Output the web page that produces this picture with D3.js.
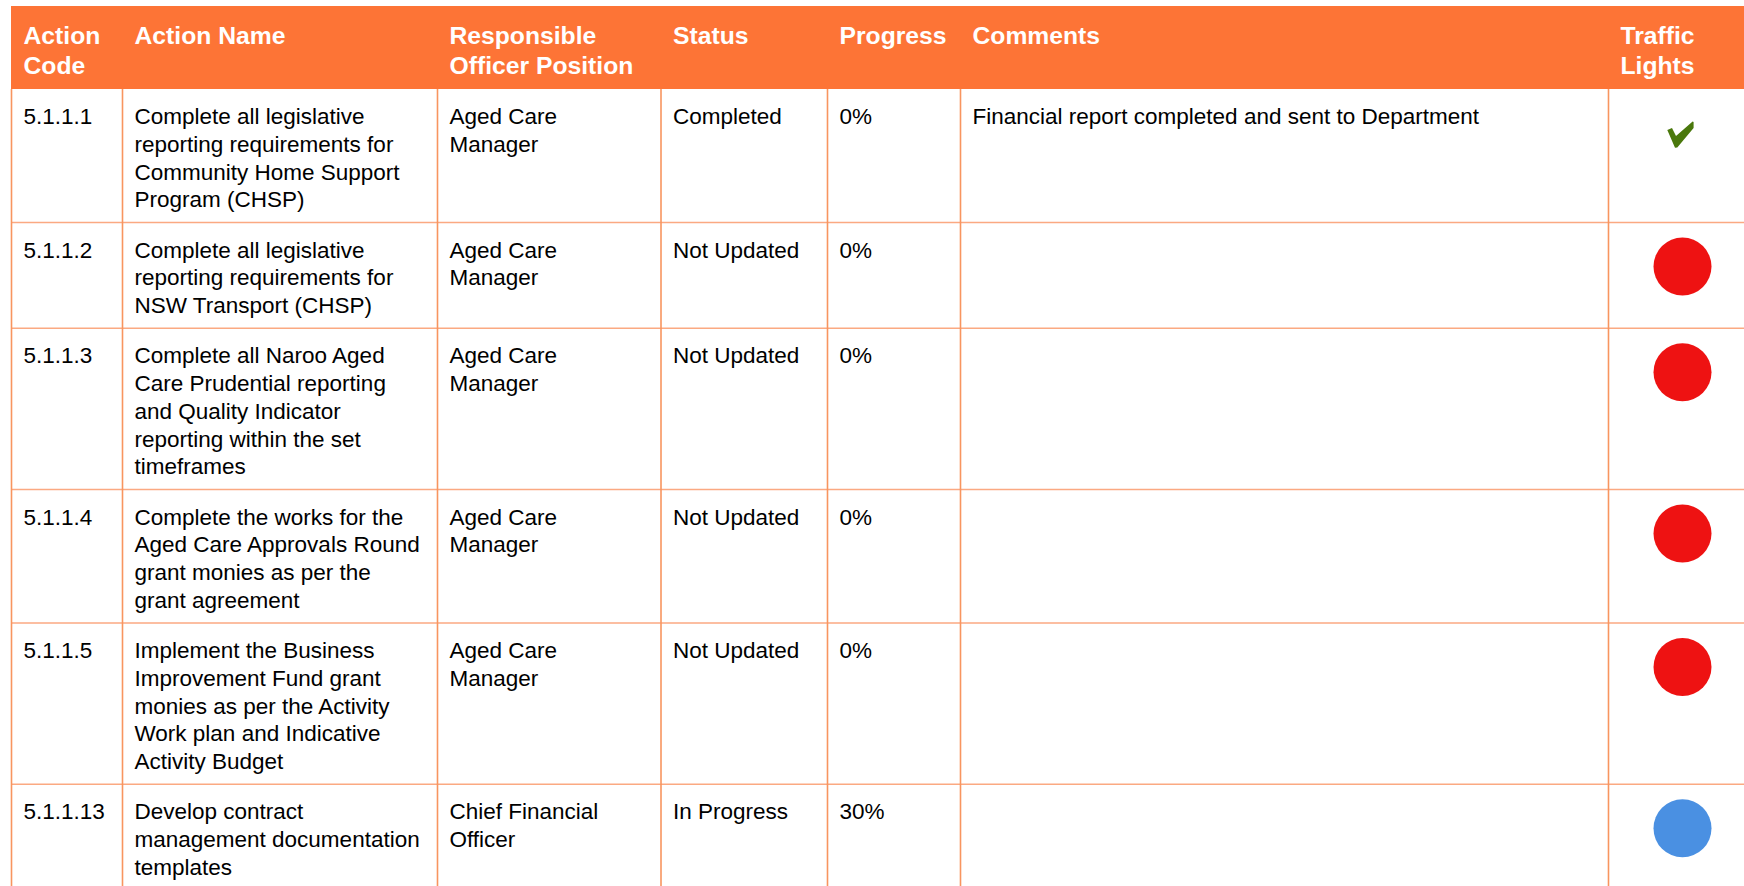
<!DOCTYPE html>
<html>
<head>
<meta charset="utf-8">
<script src="https://cdn.jsdelivr.net/npm/d3@7"></script>
<style>
  html, body { margin: 0; padding: 0; background: #ffffff; }
  svg { display: block; }
</style>
</head>
<body>
<div id="chart"></div>
<script>
// ---- data ----
const columns = ["Action\nCode", "Action Name", "Responsible\nOfficer Position", "Status", "Progress", "Comments", "Traffic\nLights"];
const columnWidths = [111, 315, 223.5, 166.5, 133, 648, 148];
const actionCodes = ["5.1.1.1", "5.1.1.2", "5.1.1.3", "5.1.1.4", "5.1.1.5", "5.1.1.13"];
const actionNames = [
  "Complete all legislative\nreporting requirements for\nCommunity Home Support\nProgram (CHSP)",
  "Complete all legislative\nreporting requirements for\nNSW Transport (CHSP)",
  "Complete all Naroo Aged\nCare Prudential reporting\nand Quality Indicator\nreporting within the set\ntimeframes",
  "Complete the works for the\nAged Care Approvals Round\ngrant monies as per the\ngrant agreement",
  "Implement the Business\nImprovement Fund grant\nmonies as per the Activity\nWork plan and Indicative\nActivity Budget",
  "Develop contract\nmanagement documentation\ntemplates"
];
const officers = ["Aged Care\nManager", "Aged Care\nManager", "Aged Care\nManager", "Aged Care\nManager", "Aged Care\nManager", "Chief Financial\nOfficer"];
const statuses = ["Completed", "Not Updated", "Not Updated", "Not Updated", "Not Updated", "In Progress"];
const progress = ["0%", "0%", "0%", "0%", "0%", "30%"];
const comments = ["Financial report completed and sent to Department", "", "", "", "", ""];
const lights = ["check", "red", "red", "red", "red", "blue"];

// ---- layout ----
const W = 1744, H = 886;
const left = 11, headerTop = 6, headerBottom = 89;
const lineH = 27.8, rowPad = 22.3, firstBase = 35, padX = 12.5;
const bodyFont = 22.5, headFont = 24.7;
const fontFamily = "'Liberation Sans', Arial, Helvetica, sans-serif";
const lightColor = { red: "#EE1212", blue: "#4A90E2" };

const colStarts = d3.cumsum([0].concat(columnWidths.slice(0, -1))).map(v => v + left);
const x = d3.scaleOrdinal().domain(columns).range(colStarts);

const rows = actionCodes.map((code, i) => ({
  code, name: actionNames[i], officer: officers[i], status: statuses[i],
  progress: progress[i], comment: comments[i], light: lights[i]
}));
const lineCount = r => d3.max([r.code, r.name, r.officer, r.status, r.progress, r.comment], s => s.split("\n").length);
const heights = rows.map(r => lineCount(r) * lineH + rowPad);
const tops = d3.cumsum([0].concat(heights.slice(0, -1))).map(v => v + headerBottom);
rows.forEach((r, i) => { r.top = tops[i]; r.h = heights[i]; });

const svg = d3.select("#chart").append("svg").attr("width", W).attr("height", H);

// header band
svg.append("rect").attr("x", left).attr("y", headerTop)
  .attr("width", W - left).attr("height", headerBottom - headerTop).attr("fill", "#FD7436");

svg.append("g").selectAll("text").data(columns).join("text")
  .attr("x", d => x(d) + padX).attr("y", 44.3)
  .attr("fill", "#ffffff").attr("font-family", fontFamily).attr("font-weight", "bold")
  .attr("font-size", headFont)
  .each(function(d) {
    d3.select(this).selectAll("tspan").data(d.split("\n")).join("tspan")
      .attr("x", x(d) + padX).attr("dy", (t, j) => j === 0 ? 0 : 29.7).text(t => t);
  });

// horizontal grid lines
svg.append("g").selectAll("line").data(rows.slice(1)).join("line")
  .attr("x1", left).attr("x2", W).attr("y1", d => d.top).attr("y2", d => d.top)
  .attr("stroke", "#FBA982").attr("stroke-width", 1.6);

// vertical grid lines
svg.append("g").selectAll("line").data(columns).join("line")
  .attr("x1", d => x(d) + 0.5).attr("x2", d => x(d) + 0.5)
  .attr("y1", headerBottom).attr("y2", H)
  .attr("stroke", "#F8955F").attr("stroke-width", 1.6);

// cell texts
const fields = ["code", "name", "officer", "status", "progress", "comment"];
const cellG = svg.append("g").attr("font-family", fontFamily).attr("font-size", bodyFont).attr("fill", "#000000");
rows.forEach(r => {
  fields.forEach((f, ci) => {
    const cx = x(columns[ci]) + padX;
    const t = cellG.append("text").attr("x", cx).attr("y", r.top + firstBase);
    t.selectAll("tspan").data(r[f].split("\n")).join("tspan")
      .attr("x", cx).attr("dy", (s, j) => j === 0 ? 0 : lineH).text(s => s);
  });
});

// traffic lights
const lightX = x(columns[6]) + 74.5;
const lg = svg.append("g");
lg.selectAll("circle").data(rows.filter(r => r.light !== "check")).join("circle")
  .attr("cx", lightX).attr("cy", d => d.top + 44).attr("r", 29)
  .attr("fill", d => lightColor[d.light]);

const checkPath = "M-13,-4.7 L-8.3,-6.7 L-4.3,1.3 L12.3,-13.3 L13.3,-12.7 L13.3,-6.7 L-3,12.7 L-5.3,13 Z";
lg.selectAll("path").data(rows.filter(r => r.light === "check")).join("path")
  .attr("transform", d => `translate(${lightX - 2.2},${d.top + 45.7})`)
  .attr("d", checkPath).attr("fill", "#4A780C");
</script>
</body>
</html>
